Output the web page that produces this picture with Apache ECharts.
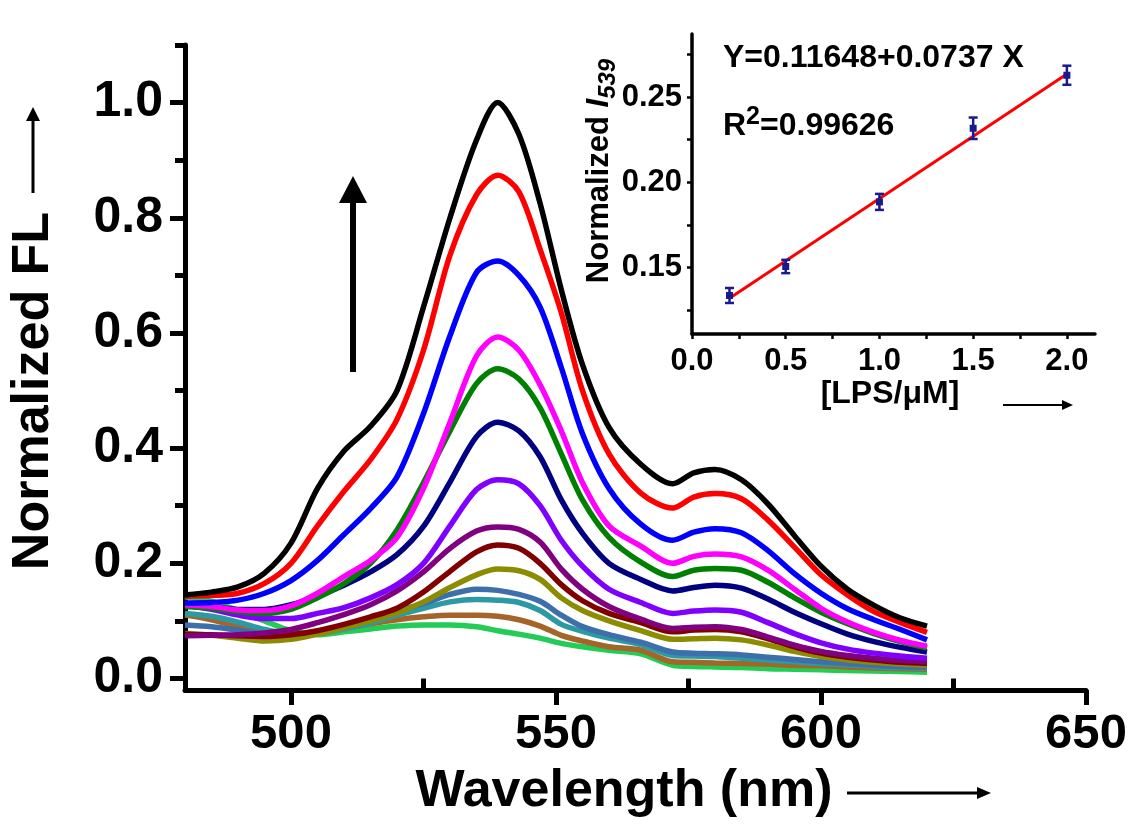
<!DOCTYPE html>
<html>
<head>
<meta charset="utf-8">
<script src="https://cdn.jsdelivr.net/npm/echarts@6/dist/echarts.min.js"></script>
<style>html,body{margin:0;padding:0;background:#fff}#c{width:1143px;height:830px}</style>
</head>
<body>
<div id="c"></div>
<script>
const wavelengths = [480,485,490,495,500,505,510,515,520,525,530,535,539,543,547,551,555,560,566,572,576,580,585,590,595,600,605,610,615,620];
const sBlack   = [0.145,0.150,0.159,0.183,0.235,0.330,0.395,0.438,0.500,0.645,0.800,0.935,1.000,0.945,0.825,0.675,0.545,0.436,0.372,0.338,0.357,0.363,0.345,0.303,0.248,0.195,0.155,0.127,0.105,0.091];
const sRed     = [0.143,0.144,0.148,0.165,0.200,0.265,0.325,0.380,0.450,0.570,0.735,0.840,0.874,0.845,0.745,0.635,0.500,0.390,0.322,0.296,0.315,0.321,0.312,0.275,0.228,0.180,0.145,0.116,0.097,0.080];
const sBlue    = [0.131,0.132,0.136,0.148,0.170,0.205,0.250,0.295,0.350,0.460,0.595,0.705,0.725,0.700,0.645,0.540,0.425,0.330,0.268,0.240,0.254,0.260,0.253,0.222,0.182,0.148,0.121,0.102,0.085,0.067];
const sMagenta = [0.128,0.125,0.119,0.118,0.126,0.148,0.177,0.205,0.245,0.330,0.445,0.560,0.593,0.570,0.510,0.430,0.340,0.265,0.230,0.200,0.212,0.216,0.211,0.188,0.155,0.122,0.098,0.080,0.066,0.056];
const sGreen   = [0.125,0.122,0.116,0.113,0.120,0.140,0.165,0.200,0.258,0.340,0.430,0.512,0.538,0.520,0.470,0.390,0.310,0.245,0.202,0.177,0.188,0.191,0.188,0.167,0.140,0.115,0.095,0.078,0.064,0.053];
const sNavy    = [0.130,0.125,0.120,0.120,0.128,0.143,0.162,0.185,0.215,0.264,0.341,0.420,0.445,0.430,0.385,0.310,0.252,0.200,0.172,0.152,0.158,0.162,0.157,0.138,0.115,0.095,0.077,0.064,0.054,0.046];
const sViolet  = [0.127,0.120,0.110,0.104,0.104,0.113,0.123,0.140,0.163,0.200,0.265,0.328,0.345,0.338,0.300,0.240,0.195,0.155,0.132,0.113,0.117,0.119,0.115,0.097,0.078,0.062,0.051,0.044,0.039,0.035];
const sPurple  = [0.074,0.075,0.076,0.079,0.085,0.097,0.111,0.128,0.152,0.185,0.226,0.256,0.263,0.259,0.237,0.190,0.155,0.125,0.103,0.087,0.089,0.090,0.085,0.072,0.058,0.047,0.040,0.035,0.031,0.029];
const sDarkRed = [0.077,0.076,0.074,0.073,0.076,0.083,0.094,0.107,0.122,0.150,0.186,0.220,0.232,0.226,0.200,0.163,0.135,0.113,0.097,0.081,0.084,0.085,0.081,0.069,0.055,0.044,0.037,0.032,0.028,0.026];
const sOlive   = [0.078,0.075,0.070,0.065,0.068,0.077,0.088,0.100,0.114,0.133,0.158,0.180,0.190,0.187,0.172,0.140,0.118,0.100,0.083,0.068,0.069,0.070,0.067,0.058,0.047,0.038,0.032,0.028,0.025,0.023];
const sSteel   = [0.093,0.090,0.084,0.077,0.073,0.079,0.091,0.105,0.118,0.130,0.146,0.155,0.153,0.146,0.134,0.110,0.090,0.076,0.063,0.046,0.044,0.043,0.041,0.037,0.033,0.029,0.026,0.023,0.021,0.020];
const sTeal    = [0.113,0.108,0.098,0.085,0.078,0.078,0.086,0.096,0.110,0.122,0.133,0.137,0.136,0.132,0.118,0.094,0.082,0.070,0.059,0.040,0.039,0.038,0.035,0.032,0.029,0.026,0.024,0.021,0.019,0.018];
const sBrown   = [0.110,0.102,0.090,0.078,0.072,0.078,0.087,0.095,0.102,0.107,0.110,0.110,0.108,0.102,0.091,0.075,0.065,0.055,0.049,0.029,0.028,0.027,0.026,0.025,0.023,0.022,0.020,0.018,0.017,0.016];
const sLtGreen = [0.142,0.134,0.118,0.100,0.083,0.076,0.081,0.086,0.091,0.093,0.093,0.090,0.083,0.077,0.070,0.061,0.055,0.049,0.043,0.023,0.021,0.020,0.019,0.017,0.016,0.015,0.014,0.013,0.012,0.011];

const mainXLabels = [500,550,600,650];
const mainXMinor = [525,575,625];
const mainYLabels = [0,0.2,0.4,0.6,0.8,1.0];
const mainYMinor = [0.1,0.3,0.5,0.7,0.9,1.1];

const lpsConc = [0.2,0.5,1.0,1.5,2.0];
const lpsI539 = [0.1336,0.1506,0.1885,0.2317,0.2628];
const lpsErr  = [0.0044,0.0039,0.0047,0.0063,0.0056];
const fitX = [0.2,2.0];
const fitY = [0.132,0.2635];
const insetXLabels = [0,0.5,1.0,1.5,2.0];
const insetXTicks = [0,0.25,0.5,0.75,1.0,1.25,1.5,1.75,2.0];
const insetYLabels = [0.15,0.20,0.25];
const insetYTicks = [0.125,0.15,0.175,0.2,0.225,0.25,0.275];

const curveList = [
  [sBlack,'#000000'],[sRed,'#ff0000'],[sBlue,'#0000ff'],[sMagenta,'#ff00ff'],[sGreen,'#008000'],
  [sNavy,'#000080'],[sViolet,'#8000ff'],[sPurple,'#800080'],[sDarkRed,'#800000'],[sOlive,'#8c8c00'],
  [sSteel,'#3d6fab'],[sTeal,'#2b9aa5'],[sBrown,'#a56428'],[sLtGreen,'#22cc55']
];

const FF = '"Liberation Sans", Arial, sans-serif';
const chart = echarts.init(document.getElementById('c'));

const series = curveList.map(([vals,col],i)=>({
  type:'line', xAxisIndex:0, yAxisIndex:0,
  data: wavelengths.map((w,k)=>[w,vals[k]]),
  showSymbol:false, smooth:0.3, z: 20-i,
  lineStyle:{color:col,width:5.5}, itemStyle:{color:col}
}));

series.push({
  type:'line', xAxisIndex:2, yAxisIndex:2,
  data: fitX.map((x,i)=>[x,fitY[i]]),
  showSymbol:false, lineStyle:{color:'#ff0000',width:3}, z:5
});
series.push({
  type:'custom', xAxisIndex:2, yAxisIndex:2, z:6,
  data: lpsConc.map((x,i)=>[x,lpsI539[i],lpsI539[i]-lpsErr[i],lpsI539[i]+lpsErr[i]]),
  renderItem:function(params,api){
    const c = api.coord([api.value(0),api.value(1)]);
    const lo = api.coord([api.value(0),api.value(2)]);
    const hi = api.coord([api.value(0),api.value(3)]);
    const col = '#1a1a8c';
    const st = {stroke:col,lineWidth:2.5};
    return {type:'group',children:[
      {type:'line',shape:{x1:lo[0],y1:lo[1],x2:hi[0],y2:hi[1]},style:st},
      {type:'line',shape:{x1:lo[0]-4.5,y1:lo[1],x2:lo[0]+4.5,y2:lo[1]},style:st},
      {type:'line',shape:{x1:hi[0]-4.5,y1:hi[1],x2:hi[0]+4.5,y2:hi[1]},style:st},
      {type:'rect',shape:{x:c[0]-3.5,y:c[1]-3.5,width:7,height:7},style:{fill:col}}
    ]};
  }
});

chart.setOption({
  animation:false,
  backgroundColor:'#fff',
  grid:[
    {left:185,right:57,top:45,bottom:140},
    {left:692,right:48,top:34,bottom:496}
  ],
  xAxis:[
    {type:'value',gridIndex:0,min:480,max:650,
     axisLine:{show:true,onZero:false,lineStyle:{color:'#000',width:5}},
     axisTick:{show:true,customValues:mainXLabels,length:15,lineStyle:{color:'#000',width:5}},
     axisLabel:{customValues:mainXLabels,margin:20,color:'#000',fontSize:49,fontWeight:'bold',fontFamily:FF},
     splitLine:{show:false}},
    {type:'value',gridIndex:0,min:480,max:650,position:'bottom',
     axisLine:{show:false},
     axisTick:{show:true,customValues:mainXMinor,length:10,lineStyle:{color:'#000',width:5}},
     axisLabel:{show:false},splitLine:{show:false}},
    {type:'value',gridIndex:1,min:0,max:2.15,
     axisLine:{show:true,onZero:false,lineStyle:{color:'#000',width:3.5}},
     axisTick:{show:true,customValues:insetXTicks,length:5,lineStyle:{color:'#000',width:2.5}},
     axisLabel:{customValues:insetXLabels,margin:12,color:'#000',fontSize:31,fontWeight:'bold',fontFamily:FF,
       formatter:v=>v.toFixed(1)},
     splitLine:{show:false}}
  ],
  yAxis:[
    {type:'value',gridIndex:0,min:-0.02,max:1.1,
     axisLine:{show:true,onZero:false,lineStyle:{color:'#000',width:5}},
     axisTick:{show:true,customValues:mainYLabels,length:15,lineStyle:{color:'#000',width:5}},
     axisLabel:{customValues:mainYLabels,margin:22,color:'#000',fontSize:50,fontWeight:'bold',fontFamily:FF,
       formatter:v=>v.toFixed(1)},
     splitLine:{show:false}},
    {type:'value',gridIndex:0,min:-0.02,max:1.1,position:'left',
     axisLine:{show:false},
     axisTick:{show:true,customValues:mainYMinor,length:10,lineStyle:{color:'#000',width:5}},
     axisLabel:{show:false},splitLine:{show:false}},
    {type:'value',gridIndex:1,min:0.111,max:0.287,
     axisLine:{show:true,onZero:false,lineStyle:{color:'#000',width:3.5}},
     axisTick:{show:true,customValues:insetYTicks,length:5,lineStyle:{color:'#000',width:2.5}},
     axisLabel:{customValues:insetYLabels,margin:10,color:'#000',fontSize:31,fontWeight:'bold',fontFamily:FF,
       formatter:v=>v.toFixed(2)},
     splitLine:{show:false}}
  ],
  graphic:[
    {type:'text',x:34,y:391,rotation:Math.PI/2,
     style:{text:'Normalized FL',fill:'#000',font:'bold 52px '+FF,align:'center',verticalAlign:'middle'}},
    {type:'line',shape:{x1:33,y1:193,x2:33,y2:118},style:{stroke:'#000',lineWidth:3}},
    {type:'polygon',shape:{points:[[33,107],[26,121],[40,121]]},style:{fill:'#000'}},
    {type:'text',x:624,y:792,
     style:{text:'Wavelength (nm)',fill:'#000',font:'bold 52px '+FF,align:'center',verticalAlign:'middle'}},
    {type:'line',shape:{x1:847,y1:793,x2:980,y2:793},style:{stroke:'#000',lineWidth:3}},
    {type:'polygon',shape:{points:[[991,793],[977,787],[977,799]]},style:{fill:'#000'}},
    {type:'line',shape:{x1:353,y1:372,x2:353,y2:198},style:{stroke:'#000',lineWidth:6}},
    {type:'polygon',shape:{points:[[353,176],[339,203],[367,203]]},style:{fill:'#000'}},
    {type:'text',x:599,y:171,rotation:Math.PI/2,
     style:{text:'{n|Normalized }{i|I}{s|539}',align:'center',verticalAlign:'middle',
       rich:{
         n:{fontSize:31,fontWeight:'bold',fontFamily:FF,fill:'#000',lineHeight:42,verticalAlign:'middle'},
         i:{fontSize:31,fontWeight:'bold',fontStyle:'italic',fontFamily:FF,fill:'#000',lineHeight:42,verticalAlign:'middle'},
         s:{fontSize:24,fontWeight:'bold',fontStyle:'italic',fontFamily:FF,fill:'#000',lineHeight:20,verticalAlign:'bottom'}
       }}},
    {type:'text',x:890,y:394,
     style:{text:'[LPS/μM]',fill:'#000',font:'bold 32px '+FF,align:'center',verticalAlign:'middle'}},
    {type:'line',shape:{x1:1003,y1:405,x2:1064,y2:405},style:{stroke:'#000',lineWidth:2}},
    {type:'polygon',shape:{points:[[1073,405],[1062,400],[1062,410]]},style:{fill:'#000'}},
    {type:'text',x:723,y:58,
     style:{text:'Y=0.11648+0.0737 X',fill:'#000',font:'bold 32px '+FF,align:'left',verticalAlign:'middle'}},
    {type:'text',x:723,y:126,
     style:{text:'{t|R}{p|2}{t|=0.99626}',align:'left',verticalAlign:'middle',
       rich:{
         t:{fontSize:32,fontWeight:'bold',fontFamily:FF,fill:'#000',lineHeight:42,verticalAlign:'middle'},
         p:{fontSize:25,fontWeight:'bold',fontFamily:FF,fill:'#000',lineHeight:18,verticalAlign:'top'}
       }}}
  ],
  series:series
});
</script>
</body>
</html>
